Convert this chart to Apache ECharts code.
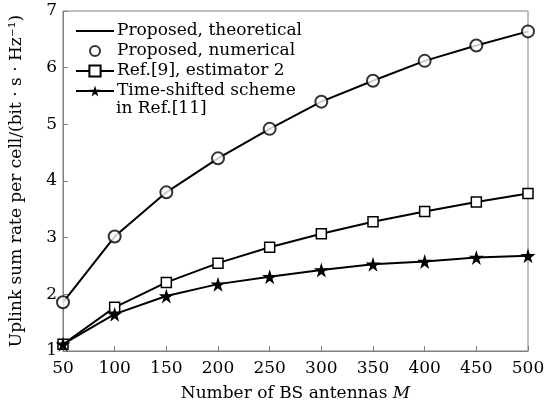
<!DOCTYPE html>
<html>
<head>
<meta charset="utf-8">
<script src="https://cdn.jsdelivr.net/npm/echarts@6/dist/echarts.min.js"></script>
<style>
  html, body { margin: 0; padding: 0; background: #fff; }
  #chart { width: 559px; height: 407px; }
</style>
</head>
<body>
<div id="chart"></div>
<script>
//Data
const antennas = [50, 100, 150, 200, 250, 300, 350, 400, 450, 500];
const proposedTheory = [1.86, 3.02, 3.80, 4.40, 4.92, 5.40, 5.77, 6.12, 6.39, 6.64];
const proposedNum = [1.86, 3.02, 3.80, 4.40, 4.92, 5.40, 5.77, 6.12, 6.39, 6.64];
const ref9Est2 = [1.12, 1.77, 2.21, 2.55, 2.83, 3.07, 3.28, 3.46, 3.63, 3.78];
const timeShifted = [1.12, 1.65, 1.97, 2.18, 2.31, 2.43, 2.53, 2.58, 2.65, 2.68];
const legendNames = ['Proposed, theoretical', 'Proposed, numerical', 'Ref.[9], estimator 2', 'Time-shifted scheme'];

const serif = '"DejaVu Serif", "Liberation Serif", serif';
const star = 'path://M50,0 L61,35 L98,35 L68,57 L79,91 L50,70 L21,91 L32,57 L2,35 L39,35 Z';
// lone moveTo points at the corners keep the icon box from being stretched
const lineIcon = 'path://M0,0 M38,14 M0,6 L38,6 L38,8 L0,8 Z';
const circleIcon = 'path://M0,0 M38,14 M24,7 A5,5 0 1,1 14,7 A5,5 0 1,1 24,7 Z';

function pairs(ys) {
    return antennas.map((x, i) => [x, ys[i]]);
}

let chart = echarts.init(document.getElementById('chart'), null, { renderer: 'canvas' });
let option = {
    animation: false,
    backgroundColor: '#fff',
    grid: {
        left: 60, right: 31, top: 11, bottom: 56,
        show: true, borderColor: '#808080', borderWidth: 1
    },
    legend: {
        orient: 'vertical',
        left: 70,
        top: 16,
        itemWidth: 38,
        itemHeight: 14,
        itemGap: 0,
        data: [
            { name: legendNames[0], icon: lineIcon, itemStyle: { color: '#000', borderWidth: 0 } },
            { name: legendNames[1], icon: circleIcon, itemStyle: { color: '#fff', borderColor: '#000', borderWidth: 2 } },
            legendNames[2],
            legendNames[3]
        ],
        textStyle: { fontFamily: serif, fontSize: 17, lineHeight: 20, color: '#000', padding: [0, 0, 0, -2] }
    },
    graphic: [{
        type: 'text',
        left: 116,
        top: 100,
        style: { text: 'in Ref.[11]', font: '17px ' + serif, fill: '#000' }
    }],
    xAxis: {
        type: 'value',
        min: 50, max: 500, interval: 50,
        name: '{n|Number of BS antennas }{m|M}',
        nameLocation: 'middle',
        nameGap: 34,
        nameTextStyle: {
            rich: {
                n: { fontFamily: serif, fontSize: 17, color: '#000' },
                m: { fontFamily: serif, fontSize: 17, color: '#000', fontStyle: 'italic' }
            }
        },
        axisLine: { lineStyle: { color: '#808080', width: 1 } },
        axisTick: { inside: true, length: 5, lineStyle: { color: '#808080' } },
        axisLabel: { fontFamily: serif, fontSize: 17, color: '#000', margin: 9 },
        splitLine: { show: false }
    },
    yAxis: {
        type: 'value',
        min: 1, max: 7, interval: 1,
        name: 'Uplink sum rate per cell/(bit · s · Hz⁻¹)',
        nameLocation: 'middle',
        nameGap: 38,
        nameTextStyle: { fontFamily: serif, fontSize: 17, color: '#000' },
        axisLine: { lineStyle: { color: '#808080', width: 1 } },
        axisTick: { inside: true, length: 5, lineStyle: { color: '#808080' } },
        axisLabel: { fontFamily: serif, fontSize: 17, color: '#000', margin: 6 },
        splitLine: { show: false }
    },
    series: [
        {
            name: legendNames[0],
            type: 'line',
            data: pairs(proposedTheory),
            symbol: 'none',
            lineStyle: { color: '#000', width: 2 },
            itemStyle: { color: '#000' },
            z: 2
        },
        {
            name: legendNames[1],
            type: 'scatter',
            data: pairs(proposedNum),
            symbol: 'circle',
            symbolSize: 12,
            itemStyle: { color: '#fff', borderColor: '#000', borderWidth: 2 },
            z: 3
        },
        {
            name: legendNames[2],
            type: 'line',
            data: pairs(ref9Est2),
            symbol: 'rect',
            symbolSize: 10,
            showAllSymbol: true,
            lineStyle: { color: '#000', width: 2 },
            itemStyle: { color: '#fff', borderColor: '#000', borderWidth: 1.5 },
            z: 3
        },
        {
            name: legendNames[3],
            type: 'line',
            data: pairs(timeShifted),
            symbol: star,
            symbolSize: 15,
            showAllSymbol: true,
            lineStyle: { color: '#000', width: 2 },
            itemStyle: { color: '#000', borderColor: '#000', borderWidth: 0 },
            z: 4
        }
    ]
};
chart.setOption(option);
</script>
</body>
</html>
